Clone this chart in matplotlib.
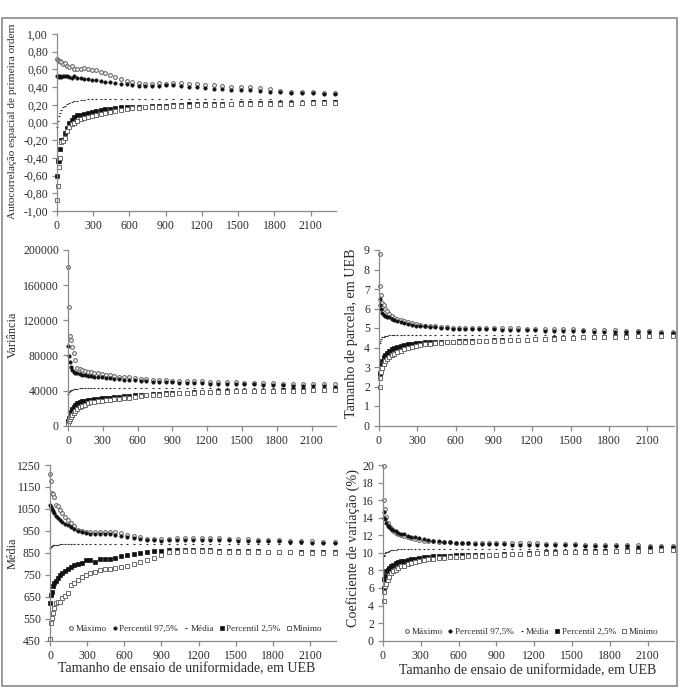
import matplotlib
matplotlib.use("Agg")
import matplotlib.pyplot as plt
from matplotlib.patches import Rectangle
from matplotlib.ticker import FuncFormatter

plt.rcParams['font.family'] = ['Liberation Serif', 'DejaVu Serif']

# tamanho do ensaio (UEB)
x_sizes = [4, 9, 16, 25, 36, 49, 64, 81, 100, 121, 144, 169, 196, 225, 256,
           289, 324, 361, 400, 441, 484, 529, 576, 625, 676, 729, 784, 841,
           900, 961, 1024, 1089, 1156, 1225, 1296, 1369, 1444, 1521, 1600,
           1681, 1764, 1849, 1936, 2025, 2116, 2209, 2304]

series_names = ["Máximo", "Percentil 97,5%", "Média", "Percentil 2,5%", "Mínimo"]

# autocorrelacao espacial
ac_max = [0.72, 0.71, 0.70, 0.70, 0.68, 0.66, 0.67, 0.64, 0.63, 0.64,
          0.61, 0.60, 0.61, 0.62, 0.60, 0.59, 0.59, 0.57, 0.56, 0.54,
          0.51, 0.49, 0.47, 0.46, 0.45, 0.44, 0.44, 0.45, 0.44, 0.45,
          0.45, 0.44, 0.43, 0.42, 0.42, 0.41, 0.40, 0.40, 0.40, 0.39,
          0.38, 0.36, 0.35, 0.34, 0.34, 0.33, 0.33]
ac_p975 = [0.52, 0.52, 0.51, 0.52, 0.51, 0.52, 0.52, 0.52, 0.51, 0.50,
           0.52, 0.50, 0.50, 0.49, 0.49, 0.48, 0.48, 0.47, 0.46, 0.46,
           0.45, 0.44, 0.43, 0.42, 0.41, 0.41, 0.41, 0.41, 0.42, 0.42,
           0.41, 0.40, 0.40, 0.39, 0.38, 0.38, 0.37, 0.37, 0.37, 0.36,
           0.35, 0.34, 0.33, 0.33, 0.33, 0.32, 0.32]
ac_mean = [-0.05, 0.02, 0.07, 0.11, 0.14, 0.17, 0.19, 0.21, 0.22, 0.23,
           0.24, 0.245, 0.25, 0.255, 0.26, 0.26, 0.26, 0.26, 0.265, 0.265,
           0.265, 0.265, 0.265, 0.265, 0.265, 0.265, 0.265, 0.265, 0.26, 0.26,
           0.26, 0.26, 0.26, 0.26, 0.26, 0.26, 0.26, 0.26, 0.26, 0.26,
           0.26, 0.255, 0.255, 0.255, 0.255, 0.25, 0.25]
ac_p25 = [-0.60, -0.43, -0.43, -0.30, -0.20, -0.20, -0.12, -0.06, -0.01, 0.03,
          0.06, 0.08, 0.09, 0.10, 0.11, 0.12, 0.13, 0.14, 0.15, 0.15,
          0.16, 0.17, 0.17, 0.18, 0.18, 0.18, 0.19, 0.19, 0.19, 0.20,
          0.20, 0.21, 0.21, 0.21, 0.21, 0.21, 0.21, 0.22, 0.22, 0.22,
          0.22, 0.22, 0.22, 0.22, 0.23, 0.23, 0.23]
ac_min = [-0.88, -0.72, -0.50, -0.40, -0.22, -0.21, -0.18, -0.10, -0.05, -0.02,
          0.00, 0.02, 0.04, 0.05, 0.06, 0.07, 0.08, 0.10, 0.11, 0.12,
          0.13, 0.14, 0.15, 0.16, 0.16, 0.17, 0.17, 0.18, 0.18, 0.19,
          0.19, 0.19, 0.20, 0.20, 0.20, 0.20, 0.21, 0.21, 0.21, 0.21,
          0.21, 0.21, 0.21, 0.22, 0.22, 0.22, 0.22]

# variancia
var_max = [181000, 135000, 102000, 97000, 90000, 83000, 75000, 66000, 64000, 63000,
           62000, 61500, 61000, 60000, 59500, 58500, 58000, 57500, 57000, 56000,
           55500, 55000, 54000, 53500, 53000, 52500, 52000, 51500, 51000, 51000,
           50500, 50500, 50500, 50000, 50000, 49500, 49500, 49000, 49000, 48500,
           48500, 48000, 48000, 47500, 47500, 47000, 47000]
var_p975 = [91000, 79500, 72000, 66500, 63500, 61500, 60500, 59500, 58500, 58000,
            57500, 57000, 56500, 56000, 55500, 55000, 54500, 54000, 53500, 53000,
            52500, 52000, 51500, 51000, 50500, 50000, 50000, 49500, 49500, 49000,
            49000, 48500, 48500, 48000, 48000, 47500, 47500, 47000, 47000, 46500,
            46000, 46000, 45500, 45500, 45000, 45000, 44500]
var_mean = [36000, 38000, 39500, 40500, 41000, 41500, 42000, 42000, 42500, 42500,
            42500, 42500, 42800, 42800, 42800, 42800, 42800, 42800, 42800, 42800,
            42800, 42800, 42800, 42800, 42800, 42800, 42800, 42800, 42800, 42800,
            42800, 42800, 42800, 42800, 42800, 42800, 42800, 42800, 42800, 42800,
            42800, 42800, 42800, 42800, 42800, 42800, 42800]
var_p25 = [5000, 8500, 12000, 15500, 18500, 21500, 24000, 25500, 27000, 28000,
           28500, 29000, 29500, 30000, 30500, 31000, 31500, 32000, 32500, 33000,
           33500, 34000, 34500, 35000, 35500, 36000, 36500, 37000, 37000, 37500,
           37500, 38000, 38500, 38500, 39000, 39000, 39500, 39500, 40000, 40000,
           40000, 40500, 40500, 41000, 41000, 41000, 41500]
var_min = [2500, 5000, 7500, 9500, 12000, 14500, 17000, 19000, 21000, 22500,
           24000, 25500, 26500, 27500, 28000, 28500, 29000, 29500, 30000, 30500,
           31000, 32000, 33000, 34000, 34500, 35000, 35500, 36000, 36500, 37000,
           37000, 37500, 38000, 38000, 38500, 38500, 39000, 39000, 39500, 39500,
           39500, 40000, 40000, 40000, 40500, 40500, 40500]

# tamanho de parcela
tam_max = [8.8, 7.15, 6.7, 6.3, 6.2, 6.0, 5.85, 5.7, 5.6, 5.5,
           5.45, 5.4, 5.35, 5.3, 5.25, 5.2, 5.15, 5.12, 5.1, 5.08,
           5.05, 5.03, 5.02, 5.02, 5.0, 5.0, 5.0, 5.0, 5.0, 5.0,
           4.98, 4.98, 4.97, 4.97, 4.96, 4.95, 4.94, 4.93, 4.92, 4.9,
           4.9, 4.88, 4.87, 4.85, 4.83, 4.82, 4.8]
tam_p975 = [6.5, 6.2, 5.95, 5.75, 5.65, 5.6, 5.55, 5.55, 5.45, 5.4,
            5.35, 5.3, 5.25, 5.2, 5.15, 5.12, 5.1, 5.08, 5.05, 5.03,
            5.0, 4.98, 4.97, 4.96, 4.95, 4.95, 4.94, 4.94, 4.93, 4.92,
            4.91, 4.9, 4.89, 4.88, 4.87, 4.86, 4.85, 4.84, 4.83, 4.82,
            4.81, 4.8, 4.79, 4.78, 4.77, 4.76, 4.75]
tam_mean = [4.25, 4.35, 4.45, 4.52, 4.56, 4.59, 4.61, 4.62, 4.63, 4.64,
            4.64, 4.65, 4.65, 4.65, 4.66, 4.66, 4.66, 4.66, 4.66, 4.66,
            4.66, 4.66, 4.66, 4.66, 4.66, 4.66, 4.66, 4.66, 4.66, 4.66,
            4.66, 4.66, 4.66, 4.66, 4.66, 4.66, 4.66, 4.66, 4.66, 4.66,
            4.66, 4.66, 4.66, 4.66, 4.66, 4.66, 4.66]
tam_p25 = [2.6, 2.7, 3.1, 3.3, 3.5, 3.6, 3.7, 3.8, 3.9, 3.97,
           4.03, 4.08, 4.13, 4.17, 4.2, 4.22, 4.25, 4.26, 4.27, 4.28,
           4.29, 4.29, 4.3, 4.31, 4.32, 4.33, 4.34, 4.35, 4.36, 4.37,
           4.38, 4.4, 4.41, 4.43, 4.45, 4.47, 4.49, 4.51, 4.53, 4.55,
           4.56, 4.57, 4.58, 4.6, 4.61, 4.62, 4.63]
tam_min = [2.0, 2.45, 2.75, 2.95, 3.15, 3.3, 3.42, 3.5, 3.6, 3.67,
           3.75, 3.82, 3.9, 3.97, 4.03, 4.08, 4.13, 4.17, 4.2, 4.22,
           4.24, 4.26, 4.27, 4.28, 4.29, 4.3, 4.31, 4.32, 4.33, 4.35,
           4.37, 4.39, 4.4, 4.42, 4.44, 4.46, 4.48, 4.5, 4.52, 4.53,
           4.54, 4.55, 4.56, 4.57, 4.58, 4.59, 4.6]

# media
med_max = [1209, 1177, 1121, 1116, 1106, 1068, 1062, 1045, 1030, 1015,
           998, 985, 970, 955, 948, 945, 945, 944, 943, 943,
           944, 946, 940, 932, 925, 920, 915, 913, 913, 914,
           916, 917, 917, 916, 916, 916, 915, 913, 912, 910,
           908, 907, 906, 904, 902, 900, 898]
med_p975 = [1068, 1060, 1048, 1040, 1030, 1020, 1010, 1000, 990, 982,
            975, 967, 958, 950, 943, 940, 938, 937, 936, 935,
            934, 933, 928, 922, 916, 912, 909, 907, 906, 907,
            908, 909, 909, 909, 908, 908, 907, 906, 905, 904,
            903, 902, 901, 899, 897, 895, 893]
med_mean = [872, 878, 882, 884, 886, 887, 888, 889, 889, 889,
            889, 889, 889, 889, 889, 889, 889, 889, 889, 889,
            889, 889, 889, 889, 889, 889, 889, 889, 889, 889,
            889, 889, 889, 889, 889, 889, 889, 889, 889, 889,
            889, 889, 889, 889, 889, 889, 889]
med_p25 = [620, 660, 672, 700, 712, 720, 735, 748, 757, 768,
           778, 785, 793, 798, 805, 816, 818, 810, 820, 822,
           824, 828, 834, 840, 845, 851, 855, 858, 860, 862,
           863, 864, 863, 862, 861, 860, 859, 858, 857, 857,
           856, 856, 855, 855, 854, 854, 853]
med_min = [460, 530, 552, 575, 598, 620, 626, 628, 645, 655,
           665, 703, 712, 725, 738, 748, 757, 764, 772, 776,
           778, 780, 785, 792, 797, 810, 818, 828, 840, 852,
           856, 858, 858, 857, 857, 856, 855, 854, 853, 853,
           852, 852, 852, 851, 851, 851, 850]

# coeficiente de variacao
cv_max = [19.9, 16.0, 15.0, 14.1, 13.4, 13.1, 12.8, 12.5, 12.3, 12.2,
          12.0, 11.9, 11.8, 11.7, 11.6, 11.5, 11.4, 11.35, 11.3, 11.25,
          11.2, 11.2, 11.15, 11.15, 11.15, 11.15, 11.15, 11.15, 11.15, 11.1,
          11.1, 11.1, 11.1, 11.1, 11.05, 11.05, 11.0, 11.0, 10.95, 10.95,
          10.9, 10.9, 10.85, 10.85, 10.8, 10.8, 10.75]
cv_p975 = [14.7, 14.0, 13.8, 13.4, 13.0, 12.9, 12.75, 12.6, 12.45, 12.3,
           12.2, 12.1, 11.95, 11.85, 11.75, 11.65, 11.55, 11.45, 11.4, 11.3,
           11.25, 11.2, 11.15, 11.1, 11.1, 11.05, 11.05, 11.0, 11.0, 11.0,
           10.95, 10.95, 10.95, 10.9, 10.9, 10.9, 10.85, 10.85, 10.8, 10.8,
           10.8, 10.75, 10.75, 10.7, 10.7, 10.7, 10.65]
cv_mean = [9.6, 9.8, 9.95, 10.05, 10.15, 10.25, 10.3, 10.35, 10.38, 10.4,
           10.42, 10.44, 10.45, 10.45, 10.45, 10.45, 10.45, 10.45, 10.45, 10.45,
           10.45, 10.45, 10.45, 10.45, 10.45, 10.45, 10.45, 10.45, 10.45, 10.45,
           10.45, 10.45, 10.45, 10.45, 10.45, 10.45, 10.45, 10.45, 10.45, 10.45,
           10.45, 10.45, 10.45, 10.45, 10.45, 10.45, 10.45]
cv_p25 = [6.0, 7.0, 7.4, 7.9, 8.1, 8.3, 8.5, 8.65, 8.8, 8.95,
          9.05, 9.1, 9.2, 9.25, 9.35, 9.4, 9.5, 9.55, 9.6, 9.6,
          9.65, 9.65, 9.7, 9.7, 9.7, 9.75, 9.75, 9.8, 9.8, 9.85,
          9.85, 9.9, 9.95, 10.0, 10.05, 10.1, 10.15, 10.15, 10.2, 10.2,
          10.25, 10.25, 10.3, 10.3, 10.35, 10.35, 10.4]
cv_min = [4.5, 5.5, 6.2, 6.5, 6.9, 7.3, 7.7, 7.9, 8.1, 8.3,
          8.45, 8.55, 8.7, 8.85, 8.95, 9.05, 9.15, 9.25, 9.35, 9.4,
          9.45, 9.5, 9.55, 9.55, 9.6, 9.6, 9.65, 9.7, 9.75, 9.8,
          9.85, 9.85, 9.9, 9.95, 10.0, 10.0, 10.05, 10.1, 10.1, 10.15,
          10.15, 10.2, 10.2, 10.25, 10.25, 10.3, 10.3]

W, H = 681, 687
GRAY = '#8a8a8a'
TXT = '#2b2b2b'

styles = [
    dict(marker='o', ms=2.7, mfc='white', mec='#6a6a6a', mew=0.8),
    dict(marker='o', ms=2.4, mfc='#111111', mec='#111111', mew=0.5),
    dict(marker='_', ms=2.0, mec='#222222', mew=0.8),
    dict(marker='s', ms=2.7, mfc='#111111', mec='#111111', mew=0.5),
    dict(marker='s', ms=2.8, mfc='white', mec='#6a6a6a', mew=0.7),
]


def px_box(left, top, right, bottom):
    return [left / W, 1 - bottom / H, (right - left) / W, (bottom - top) / H]


def panel(fig, box, series, ylim, yticks, fmt=None):
    ax = fig.add_axes(px_box(*box))
    for name, st, vals in zip(series_names, styles, series):
        ax.plot(x_sizes, vals, linestyle='none', label=name, clip_on=False, **st)
    ax.set_xlim(0, 2310)
    ax.set_ylim(*ylim)
    ax.set_xticks(range(0, 2101, 300))
    ax.set_yticks(yticks)
    if fmt is not None:
        ax.yaxis.set_major_formatter(FuncFormatter(fmt))
    for s in ['top', 'right']:
        ax.spines[s].set_visible(False)
    for s in ['left', 'bottom']:
        ax.spines[s].set_color(GRAY)
        ax.spines[s].set_linewidth(0.9)
    ax.tick_params(direction='out', length=3.5, width=0.9, color=GRAY,
                   labelsize=8.5, labelcolor=TXT, pad=3)
    return ax


def add_legend(ax, cx, cy):
    leg = ax.legend(loc='center', bbox_to_anchor=(cx, cy), ncol=5, frameon=False,
                    fontsize=6.6, handlelength=0.5, handletextpad=0.25,
                    columnspacing=0.6, markerscale=1.0, labelcolor=TXT,
                    borderpad=0.1)
    return leg


fig = plt.figure(figsize=(W / 100, H / 100), dpi=100)

fig.patches.append(Rectangle((2 / W, 1 / H), 675 / W, 668 / H, transform=fig.transFigure,
                             fill=False, edgecolor=GRAY, linewidth=1.2))

ax1 = panel(fig, (57, 34, 336, 211), [ac_max, ac_p975, ac_mean, ac_p25, ac_min],
            (-1.0, 1.0), [i / 10 for i in range(-10, 11, 2)],
            fmt=lambda v, p: f"{v:.2f}".replace('.', ','))
ax2 = panel(fig, (68, 250, 336, 425.7), [var_max, var_p975, var_mean, var_p25, var_min],
            (0, 200000), range(0, 200001, 40000))
ax3 = panel(fig, (379, 250, 674, 425.5), [tam_max, tam_p975, tam_mean, tam_p25, tam_min],
            (0, 9), range(0, 10))
ax4 = panel(fig, (50, 465, 336, 640.7), [med_max, med_p975, med_mean, med_p25, med_min],
            (450, 1250), range(450, 1251, 100))
ax5 = panel(fig, (383, 465, 674, 640.7), [cv_max, cv_p975, cv_mean, cv_p25, cv_min],
            (0, 20), range(0, 21, 2))

add_legend(ax4, 0.51, 0.067)
add_legend(ax5, 0.51, 0.05)

fig.text(13 / W, 1 - 121 / H, "Autocorrelação espacial de primeira ordem", rotation=90,
         ha='center', va='center', fontsize=8.1, color=TXT)
fig.text(13 / W, 1 - 335 / H, "Variância", rotation=90,
         ha='center', va='center', fontsize=8.8, color=TXT)
fig.text(352 / W, 1 - 333 / H, "Tamanho de parcela, em UEB", rotation=90,
         ha='center', va='center', fontsize=10.2, color=TXT)
fig.text(13 / W, 1 - 553 / H, "Média", rotation=90,
         ha='center', va='center', fontsize=8.8, color=TXT)
fig.text(353 / W, 1 - 548 / H, "Coeficiente de variação (%)", rotation=90,
         ha='center', va='center', fontsize=10.2, color=TXT)
fig.text(187 / W, 1 - 669 / H, "Tamanho de ensaio de uniformidade, em UEB",
         ha='center', va='center', fontsize=10, color=TXT)
fig.text(528 / W, 1 - 671 / H, "Tamanho de ensaio de uniformidade, em UEB",
         ha='center', va='center', fontsize=10, color=TXT)

fig.savefig("out.png", dpi=100)
